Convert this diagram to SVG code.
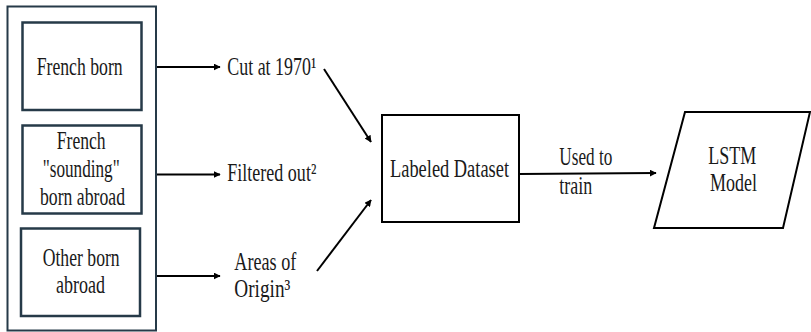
<svg xmlns="http://www.w3.org/2000/svg" width="811" height="332" viewBox="0 0 811 332">
  <defs>
    <marker id="arrow" viewBox="0 0 10 10" refX="9" refY="5" markerWidth="7" markerHeight="7" markerUnits="userSpaceOnUse" orient="auto">
      <path d="M0,0 L10,5 L0,10 z" fill="#000"/>
    </marker>
  </defs>
  <style>
    .t { font-size: 24.5px; fill: #1a1a1a; }
    .src { fill: #fff; stroke: #263a48; stroke-width: 2.5; }
    .box { fill: #fff; stroke: #000; stroke-width: 2; }
    .edge { fill: none; stroke: #000; stroke-width: 2; marker-end: url(#arrow); }
  </style>
  <rect width="811" height="332" fill="#fff"/>

  <!-- population container -->
  <g id="sources">
    <rect x="7.5" y="6.5" width="148.5" height="324" fill="#fff" stroke="#263a48" stroke-width="2"/>
  </g>

  <g font-family="Liberation Serif, DejaVu Serif, serif">
  <g id="french-born">
    <rect class="src" x="22.5" y="22.5" width="119" height="87.5"/>
    <text class="t" x="36.7" y="75" textLength="86" lengthAdjust="spacingAndGlyphs">French born</text>
  </g>

  <g id="french-sounding">
    <rect class="src" x="22.5" y="125.5" width="119" height="88"/>
    <text class="t" x="56.7" y="149" textLength="49" lengthAdjust="spacingAndGlyphs">French</text>
    <text class="t" x="42.7" y="177" textLength="77" lengthAdjust="spacingAndGlyphs">"sounding"</text>
    <text class="t" x="40" y="205" textLength="85" lengthAdjust="spacingAndGlyphs">born abroad</text>
  </g>

  <g id="other-born">
    <rect class="src" x="21" y="228.5" width="119" height="87.5"/>
    <text class="t" x="42.7" y="266" textLength="77" lengthAdjust="spacingAndGlyphs">Other born</text>
    <text class="t" x="56" y="293" textLength="49" lengthAdjust="spacingAndGlyphs">abroad</text>
  </g>

  <g id="cut">
    <text class="t" x="227.3" y="74.5" textLength="89" lengthAdjust="spacingAndGlyphs">Cut at 1970¹</text>
  </g>

  <g id="filtered">
    <text class="t" x="227.3" y="180.5" textLength="89" lengthAdjust="spacingAndGlyphs">Filtered out²</text>
  </g>

  <g id="areas">
    <text class="t" x="234.3" y="270" textLength="62" lengthAdjust="spacingAndGlyphs">Areas of</text>
    <text class="t" x="234.3" y="297" textLength="56" lengthAdjust="spacingAndGlyphs">Origin³</text>
  </g>

  <g id="dataset">
    <rect class="box" x="382" y="115" width="137" height="107"/>
    <text class="t" x="390" y="176.5" textLength="119" lengthAdjust="spacingAndGlyphs">Labeled Dataset</text>
  </g>

  <g id="lstm">
    <polygon class="box" points="685,112 810,112 783,228 654,228"/>
    <text class="t" x="708.3" y="163.5" textLength="48" lengthAdjust="spacingAndGlyphs">LSTM</text>
    <text class="t" x="710" y="191" textLength="47" lengthAdjust="spacingAndGlyphs">Model</text>
  </g>

  <g id="connectors">
    <line class="edge" x1="157" y1="67" x2="220" y2="67"/>
    <line class="edge" x1="157" y1="174.5" x2="220" y2="174.5"/>
    <line class="edge" x1="157" y1="276" x2="220" y2="276"/>
    <line class="edge" x1="324" y1="69" x2="371" y2="142"/>
    <line class="edge" x1="317" y1="271" x2="371" y2="200"/>
    <line class="edge" x1="519" y1="174" x2="656" y2="173"/>
    <text class="t" x="559.3" y="165" textLength="53" lengthAdjust="spacingAndGlyphs">Used to</text>
    <text class="t" x="559.3" y="193.5" textLength="33" lengthAdjust="spacingAndGlyphs">train</text>
  </g>
  </g>
</svg>
